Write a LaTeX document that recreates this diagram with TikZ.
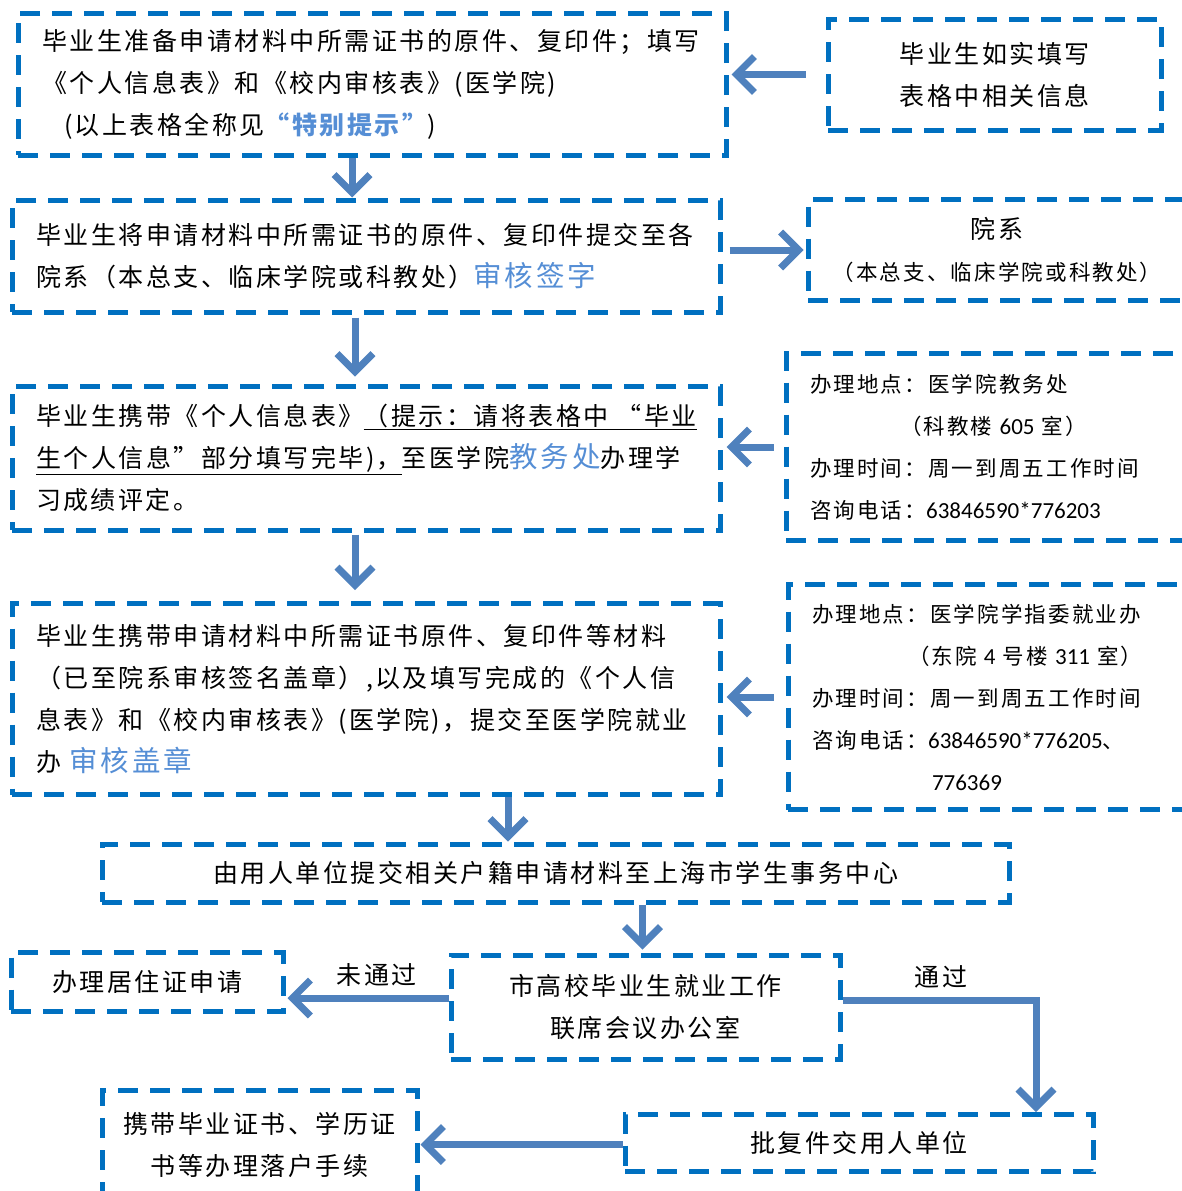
\documentclass[tikz,border=0pt]{standalone}
\usepackage{fontspec}
\setmainfont{Noto Sans CJK SC}[LetterSpace=10]
\newfontfamily\lat{Carlito}
\usetikzlibrary{arrows.meta}

\definecolor{boxblue}{RGB}{0,112,192}
\definecolor{arrowblue}{RGB}{79,129,189}
\definecolor{hlblue}{RGB}{85,142,213}
\newcommand{\hl}[1]{{\color{hlblue}#1}}
\newcommand{\hlbig}[1]{{\color{hlblue}\fontsize{28.5}{42}\selectfont #1}}
\newcommand{\num}[1]{{\lat\fontsize{23}{42}\selectfont #1}}

\begin{document}
\begin{tikzpicture}[x=1pt,y=-1pt,
  dbox/.style={draw=boxblue,line width=5pt,dash pattern=on 20pt off 12pt,
    inner sep=0pt,font=\fontsize{25}{42}\selectfont},
  lbox/.style={dbox,align=left,inner xsep=24pt},
  cbox/.style={dbox,align=center},
  rinfo/.style={dbox,align=left,inner xsep=24pt,font=\fontsize{21.5}{42}\selectfont},
  flow/.style={draw=arrowblue,line width=7pt,-{Straight Barb[length=18pt,width=36pt]}},
  lbl/.style={font=\fontsize{25}{30}\selectfont,inner sep=2pt}]

\useasboundingbox (0,0) rectangle (1182,1191);

\node[lbox,text width=660pt,minimum height=142pt] (b1) at (372,84)
  {毕业生准备申请材料中所需证书的原件、复印件；填写\\
   《个人信息表》和《校内审核表》(医学院)\\
   \hspace*{22pt}(以上表格全称见{\bfseries\hl{“特别提示”}})};
\node[cbox,minimum width=333pt,minimum height=111pt] (r1) at (994.5,74.5)
  {毕业生如实填写\\表格中相关信息};

\node[lbox,text width=660pt,minimum height=112pt] (b2) at (366,256)
  {毕业生将申请材料中所需证书的原件、复印件提交至各\\
   院系（本总支、临床学院或科教处）\hlbig{审核签字}};
\node[cbox,minimum width=378pt,minimum height=101pt] (r2) at (997,250)
  {院系\\{\fontsize{21.5}{42}\selectfont（本总支、临床学院或科教处）}};

\node[lbox,text width=660pt,minimum height=144pt] (b3) at (366,458)
  {毕业生携带《个人信息表》\underline{（提示：请将表格中 “毕业}\\
   \underline{生个人信息”部分填写完毕)，}至医学院\hlbig{教务处}办理学\\
   习成绩评定。};
\node[rinfo,text width=356pt,minimum height=187pt] (r3) at (988,447)
  {办理地点：医学院教务处\\
   \hspace*{90pt}（科教楼 \num{605} 室）\\
   办理时间：周一到周五工作时间\\
   咨询电话：\num{63846590*776203}};

\node[lbox,text width=660pt,minimum height=191pt] (b4) at (366,699)
  {毕业生携带申请材料中所需证书原件、复印件等材料\\
   （已至院系审核签名盖章）,以及填写完成的《个人信\\
   息表》和《校内审核表》(医学院)，提交至医学院就业\\
   办 \hlbig{审核盖章}};
\node[rinfo,text width=354pt,minimum height=225pt] (r4) at (989,697)
  {办理地点：医学院学指委就业办\\
   \hspace*{96pt}（东院 \num{4} 号楼 \num{311} 室）\\
   办理时间：周一到周五工作时间\\
   咨询电话：\num{63846590*776205}、\\
   \hspace*{120pt}\num{776369}};

\node[cbox,minimum width=907pt,minimum height=58pt] (b5) at (555.5,873)
  {由用人单位提交相关户籍申请材料至上海市学生事务中心};
\node[cbox,minimum width=389pt,minimum height=104pt] (b6) at (645.5,1007)
  {市高校毕业生就业工作\\联席会议办公室};
\node[cbox,minimum width=272pt,minimum height=59pt] (b7) at (147,982)
  {办理居住证申请};
\node[cbox,minimum width=468pt,minimum height=57pt] (b8) at (859,1143)
  {批复件交用人单位};
\node[cbox,minimum width=315pt,minimum height=110pt] (b9) at (259.5,1145)
  {携带毕业证书、学历证\\书等办理落户手续};

\draw[flow,shorten <=20pt,shorten >=3pt] (r1.west) -- (r1.west -| b1.east);
\draw[flow,shorten <=7pt,shorten >=2pt] (r2.west -| b2.east) -- (r2.west);
\draw[flow,shorten <=10pt,shorten >=4pt] (r3.west) -- (r3.west -| b3.east);
\draw[flow,shorten <=12pt,shorten >=4pt] (r4.west) -- (r4.west -| b4.east);

\draw[flow] ([xshift=-20pt]b1.south) -- ([xshift=-20pt]b1.south |- b2.north);
\draw[flow,shorten <=3pt,shorten >=7pt] ([xshift=-11pt]b2.south) -- ([xshift=-11pt]b2.south |- b3.north);
\draw[flow,shorten <=2pt,shorten >=11pt] ([xshift=-11pt]b3.south) -- ([xshift=-11pt]b3.south |- b4.north);
\draw[flow] ([xshift=142pt]b4.south) -- ([xshift=142pt]b4.south |- b5.north);
\draw[flow,shorten >=3pt] ([xshift=-3pt]b6.north |- b5.south) -- ([xshift=-3pt]b6.north);

\draw[flow,shorten >=2pt] ([yshift=9pt]b6.west) -- ([yshift=9pt]b6.west -| b7.east)
  node[lbl,pos=0.44,above=6pt] (no) {未通过};
\draw[flow] ([yshift=7pt]b6.east) -| ([xshift=177pt]b8.north)
  node[lbl,pos=0.255,above=6pt] (yes) {通过};
\draw[flow,shorten >=1pt] ([yshift=-1.5pt]b8.west) -- ([yshift=-1.5pt]b8.west -| b9.east);

\end{tikzpicture}
\end{document}
